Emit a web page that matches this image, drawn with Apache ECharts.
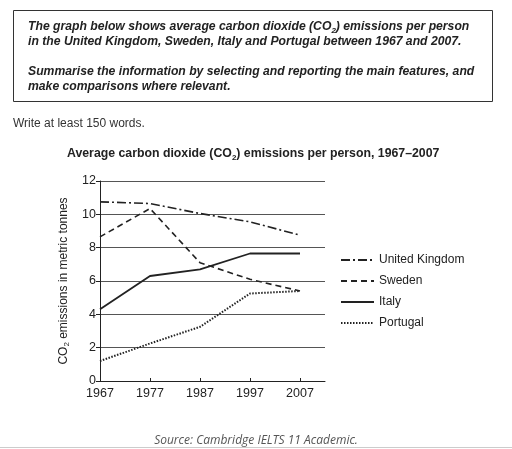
<!DOCTYPE html>
<html>
<head>
<meta charset="utf-8">
<script src="https://cdn.jsdelivr.net/npm/echarts@6/dist/echarts.min.js"></script>
<style>
html,body{margin:0;padding:0;background:#fff;}
#c{width:512px;height:449px;}
</style>
</head>
<body>
<div id="c"></div>
<script>
var years = [1967, 1977, 1987, 1997, 2007];
var yTicks = [0, 2, 4, 6, 8, 10, 12];
var ukValues = [10.75, 10.65, 10.05, 9.55, 8.75];
var swedenValues = [8.65, 10.35, 7.1, 6.1, 5.4];
var italyValues = [4.3, 6.3, 6.7, 7.65, 7.65];
var portugalValues = [1.2, 2.25, 3.25, 5.25, 5.4];
var seriesNames = ['United Kingdom', 'Sweden', 'Italy', 'Portugal'];

function pairs(vals) { return years.map(function (y, i) { return [y, vals[i]]; }); }

var FONT = '"Liberation Sans", Arial, sans-serif';
var ink = '#222';

var chart = echarts.init(document.getElementById('c'), null, {renderer: 'canvas'});
chart.setOption({
  animation: false,
  backgroundColor: '#fff',
  textStyle: {fontFamily: FONT},
  title: {
    text: '{a|Average carbon dioxide (CO}{s|2}{a|) emissions per person, 1967–2007}',
    left: 67,
    top: 146,
    padding: 0,
    textStyle: {
      rich: {
        a: {fontFamily: FONT, fontWeight: 'bold', fontSize: 12.3, color: ink, lineHeight: 16},
        s: {fontFamily: FONT, fontWeight: 'bold', fontSize: 8, color: ink, lineHeight: 8, verticalAlign: 'bottom'}
      }
    }
  },
  graphic: [
    {type: 'rect', shape: {x: 13.5, y: 10.5, width: 479, height: 91}, style: {fill: 'none', stroke: '#333', lineWidth: 1}},
    {type: 'text', left: 28, top: 21, style: {
      text: '{a|The graph below shows average carbon dioxide (CO}{s|2}{a|) emissions per person}\n{a|in the United Kingdom, Sweden, Italy and Portugal between 1967 and 2007.}',
      rich: {
        a: {fontFamily: FONT, fontWeight: 'bold', fontStyle: 'italic', fontSize: 12.2, fill: ink, lineHeight: 15},
        s: {fontFamily: FONT, fontWeight: 'bold', fontStyle: 'italic', fontSize: 8, fill: ink, lineHeight: 8, verticalAlign: 'bottom'}
      }
    }},
    {type: 'text', left: 28, top: 64, style: {
      text: 'Summarise the information by selecting and reporting the main features, and\nmake comparisons where relevant.',
      fontFamily: FONT, fontWeight: 'bold', fontStyle: 'italic', fontSize: 12.2, fill: ink, lineHeight: 15
    }},
    {type: 'text', left: 13, top: 118, style: {
      text: 'Write at least 150 words.', fontFamily: FONT, fontSize: 12, fill: '#333'
    }},
    {type: 'text', left: 'center', top: 435, style: {
      text: 'Source: Cambridge IELTS 11 Academic.', fontFamily: '"Open Sans", sans-serif', fontStyle: 'italic', fontSize: 12, fill: '#555'
    }},
    {type: 'line', shape: {x1: 0, y1: 447.5, x2: 512, y2: 447.5}, style: {stroke: '#ccc', lineWidth: 1}}
  ],
  legend: {
    orient: 'vertical',
    left: 340,
    top: 254,
    padding: 0,
    itemWidth: 33,
    itemHeight: 10,
    itemGap: 9,
    data: seriesNames,
    itemStyle: {opacity: 0},
    textStyle: {fontFamily: FONT, fontSize: 12, color: ink}
  },
  grid: {left: 100, right: 187, top: 181, bottom: 68, containLabel: false},
  xAxis: {
    type: 'value',
    min: 1967,
    max: 2012,
    interval: 10,
    axisLine: {lineStyle: {color: ink, width: 1}},
    axisTick: {inside: true, length: 3, lineStyle: {color: ink}, customValues: years},
    axisLabel: {color: ink, fontSize: 12.5, margin: 6, fontFamily: FONT, customValues: years,
      formatter: function (v) { return String(v); }},
    splitLine: {show: false}
  },
  yAxis: {
    type: 'value',
    min: 0,
    max: 12,
    interval: 2,
    name: '{a|CO}{s|2}{a| emissions in metric tonnes}',
    nameLocation: 'middle',
    nameGap: 29,
    nameTextStyle: {
      rich: {
        a: {fontFamily: FONT, fontSize: 12, color: ink, lineHeight: 14},
        s: {fontFamily: FONT, fontSize: 8, color: ink, lineHeight: 8, verticalAlign: 'bottom'}
      }
    },
    axisLine: {show: true, lineStyle: {color: ink, width: 1}},
    axisTick: {show: true, length: 4, lineStyle: {color: ink}},
    axisLabel: {color: ink, fontSize: 12.5, margin: 4, fontFamily: FONT},
    splitLine: {show: true, lineStyle: {color: '#555', width: 1}}
  },
  series: [
    {name: seriesNames[0], type: 'line', data: pairs(ukValues), symbol: 'none',
      lineStyle: {color: ink, width: 1.6, type: [9, 3, 2, 3]}, itemStyle: {color: ink}},
    {name: seriesNames[1], type: 'line', data: pairs(swedenValues), symbol: 'none',
      lineStyle: {color: ink, width: 1.6, type: [6, 4]}, itemStyle: {color: ink}},
    {name: seriesNames[2], type: 'line', data: pairs(italyValues), symbol: 'none',
      lineStyle: {color: ink, width: 1.8, type: 'solid'}, itemStyle: {color: ink}},
    {name: seriesNames[3], type: 'line', data: pairs(portugalValues), symbol: 'none',
      lineStyle: {color: ink, width: 2, type: [1.5, 1.5]}, itemStyle: {color: ink}}
  ]
});
</script>
</body>
</html>
